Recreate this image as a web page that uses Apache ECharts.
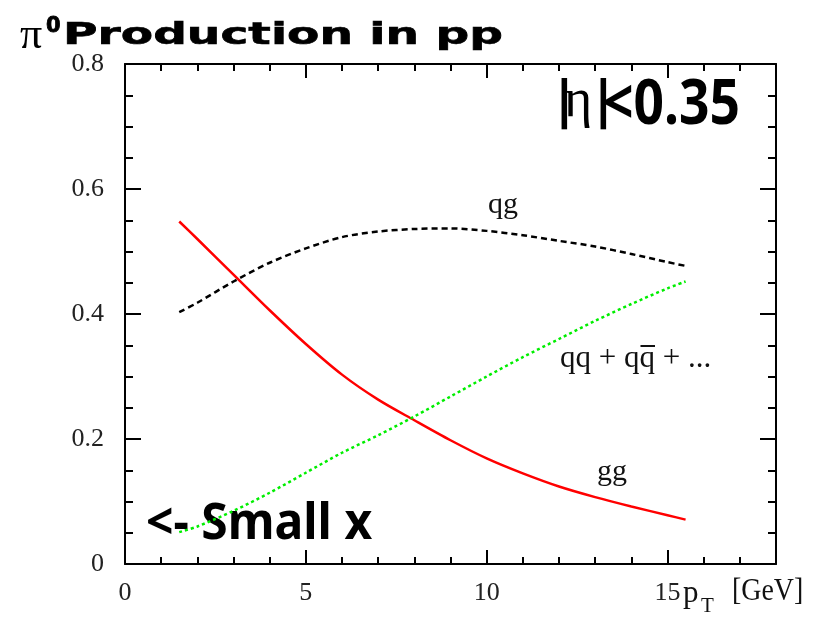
<!DOCTYPE html>
<html>
<head>
<meta charset="utf-8">
<script src="https://cdn.jsdelivr.net/npm/echarts@6/dist/echarts.min.js"></script>
<style>
html,body{margin:0;padding:0;background:#fff;}
#c{width:817px;height:619px;}
</style>
</head>
<body>
<div id="c"></div>
<script>
// ---- data ----
const pT = [1.5, 2, 3, 4, 5, 6, 7, 8, 9, 10, 11, 12, 13, 14, 15, 15.5];
const gg = [0.548, 0.520, 0.463, 0.406, 0.352, 0.303, 0.263, 0.230, 0.198, 0.169, 0.145, 0.124, 0.107, 0.092, 0.078, 0.071];
const qg = [0.403, 0.418, 0.452, 0.482, 0.505, 0.523, 0.532, 0.536, 0.537, 0.533, 0.526, 0.517, 0.508, 0.496, 0.483, 0.477];
const qq = [0.051, 0.060, 0.085, 0.114, 0.146, 0.178, 0.206, 0.236, 0.268, 0.300, 0.331, 0.360, 0.389, 0.416, 0.441, 0.452];
const xTicks = [0, 5, 10, 15];
const yTicks = [0, 0.2, 0.4, 0.6, 0.8];

const pairs = ys => pT.map((x, i) => [x, ys[i]]);
const chart = echarts.init(document.getElementById('c'), null, {renderer: 'canvas'});

const serif = '"Liberation Serif", "Times New Roman", serif';
const sans = '"Noto Sans", "DejaVu Sans", sans-serif';
const dejavu = '"DejaVu Sans", sans-serif';
const lineBlack = {color: '#000', width: 2};

// text measuring helper (for the q-bar over the antiquark)
const mctx = document.createElement('canvas').getContext('2d');
function tw(txt, font) { mctx.font = font; return mctx.measureText(txt).width; }
const qqFont = '31px ' + serif;
const qqX = 560;
const barX = qqX + tw('qq + q', qqFont);
const barW = tw('q', qqFont);

function xAx(pos, major) {
  return {
    type: 'value', min: 0, max: 18, interval: major ? 5 : 1, position: pos,
    axisLine: {show: major, onZero: false, lineStyle: lineBlack},
    axisTick: {show: true, inside: true, length: major ? 14 : 7, lineStyle: lineBlack},
    axisLabel: {
      show: major && pos === 'bottom', margin: 16, showMaxLabel: false,
      fontFamily: serif, fontSize: 26, color: '#222',
      formatter: v => xTicks.includes(v) ? String(v) : ''
    },
    splitLine: {show: false}
  };
}
function yAx(pos, major) {
  return {
    type: 'value', min: 0, max: 0.8, interval: major ? 0.2 : 0.05, position: pos,
    axisLine: {show: major, onZero: false, lineStyle: lineBlack},
    axisTick: {show: true, inside: true, length: major ? 16 : 8, lineStyle: lineBlack},
    axisLabel: {
      show: major && pos === 'left', margin: 21,
      fontFamily: serif, fontSize: 26, color: '#222',
      formatter: v => {
        const t = yTicks.find(k => Math.abs(k - v) < 1e-6);
        return t === undefined ? '' : (t === 0 ? '0' : t.toFixed(1));
      }
    },
    splitLine: {show: false}
  };
}

const option = {
  backgroundColor: '#fff',
  animation: false,
  grid: {left: 125, top: 64, right: 41, bottom: 55, containLabel: false},
  xAxis: [xAx('bottom', true), xAx('bottom', false), xAx('top', true), xAx('top', false)],
  yAxis: [yAx('left', true), yAx('left', false), yAx('right', true), yAx('right', false)],
  series: [
    {name: 'gg', type: 'line', data: pairs(gg), showSymbol: false, smooth: 0.3,
     lineStyle: {color: '#ff0000', width: 2.5, type: 'solid'}},
    {name: 'qg', type: 'line', data: pairs(qg), showSymbol: false, smooth: 0.3,
     lineStyle: {color: '#000', width: 2.5, type: [6, 4]}},
    {name: 'qq', type: 'line', data: pairs(qq), showSymbol: false, smooth: 0.3,
     lineStyle: {color: '#00ee00', width: 2.5, type: [3, 3]}}
  ],
  graphic: [
    // title
    {type: 'text', x: 20, y: 36, style: {text: 'π', font: '44px ' + serif, fill: '#000', textVerticalAlign: 'middle'}},
    {type: 'text', x: 46, y: 27, style: {text: '0', font: 'bold 21px ' + dejavu, fill: '#000', stroke: '#000', lineWidth: 0.8, textVerticalAlign: 'middle'}},
    {type: 'text', x: 63, y: 36, scaleX: 1.52, style: {text: 'Production in pp', font: 'bold 31px ' + dejavu, fill: '#000', stroke: '#000', lineWidth: 0.6, lineJoin: 'round', textVerticalAlign: 'middle'}},
    // |eta|<0.35
    {type: 'text', x: 550, y: 103, style: {text: '|', font: 'bold 52px ' + sans, fill: '#000', textVerticalAlign: 'middle'}},
    {type: 'text', x: 564, y: 102, style: {text: 'η', font: '54px ' + serif, fill: '#000', textVerticalAlign: 'middle'}},
    {type: 'text', x: 589, y: 103, style: {text: '|', font: 'bold 52px ' + sans, fill: '#000', textVerticalAlign: 'middle'}},
    {type: 'text', x: 603, y: 106, scaleX: 0.86, style: {text: '<0.35', font: 'bold 62px ' + sans, fill: '#000', textVerticalAlign: 'middle'}},
    // <- Small x
    {type: 'text', x: 146, y: 525, scaleX: 0.96, style: {text: '<- Small x', font: 'bold 50px ' + sans, fill: '#000', textVerticalAlign: 'middle'}},
    // curve labels
    {type: 'text', x: 488, y: 205, style: {text: 'qg', font: '30px ' + serif, fill: '#111', textVerticalAlign: 'middle'}},
    {type: 'text', x: qqX, y: 359, style: {text: 'qq + qq + ...', font: qqFont, fill: '#111', textVerticalAlign: 'middle'}},
    {type: 'rect', shape: {x: barX + 1, y: 345, width: barW - 1, height: 2}, style: {fill: '#111'}},
    {type: 'text', x: 597, y: 472, style: {text: 'gg', font: '30px ' + serif, fill: '#111', textVerticalAlign: 'middle'}},
    // axis title
    {type: 'text', x: 683, y: 594, style: {text: 'p', font: '31px ' + serif, fill: '#111', textVerticalAlign: 'middle'}},
    {type: 'text', x: 701, y: 606, style: {text: 'T', font: '21px ' + serif, fill: '#111', textVerticalAlign: 'middle'}},
    {type: 'text', x: 732, y: 592, scaleX: 0.9, style: {text: '[GeV]', font: '31px ' + serif, fill: '#111', textVerticalAlign: 'middle'}}
  ]
};
chart.setOption(option);
</script>
</body>
</html>
